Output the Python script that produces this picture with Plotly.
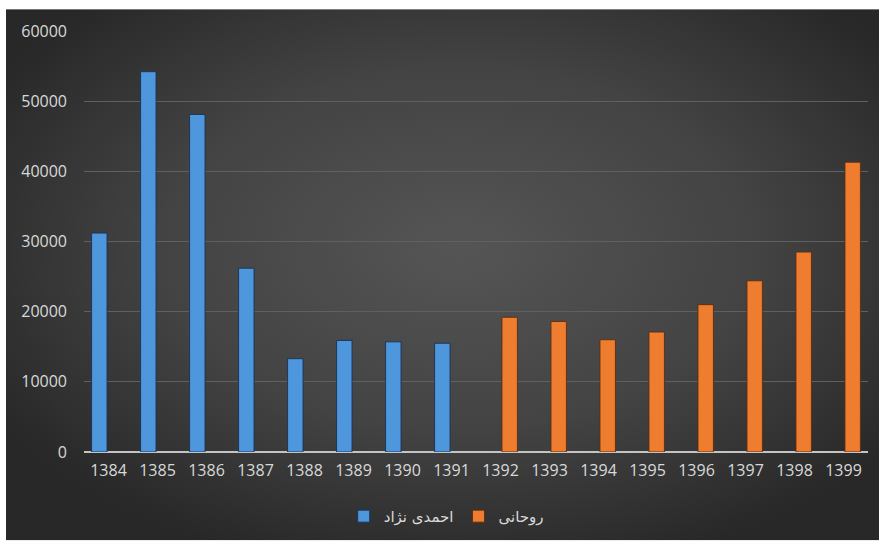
import base64
import plotly.graph_objects as go

# ---- data ----
years = ["1384", "1385", "1386", "1387", "1388", "1389", "1390", "1391",
         "1392", "1393", "1394", "1395", "1396", "1397", "1398", "1399"]
ahmadinejad = [31200, 54200, 48100, 26200, 13300, 15900, 15700, 15500,
               None, None, None, None, None, None, None, None]
rouhani = [None, None, None, None, None, None, None, None,
           19200, 18600, 16000, 17100, 21000, 24400, 28500, 41300]
series_names = ["احمدی نژاد", "روحانی"]
y_ticks = [0, 10000, 20000, 30000, 40000, 50000, 60000]

W, H = 879, 544
ML, MR, MT, MB = 84, 11, 31, 89
pw, ph = W - ML - MR, H - MT - MB

# radial gradient background (chart area)
svg = (
    '<svg xmlns="http://www.w3.org/2000/svg" width="873" height="535" viewBox="0 0 873 535" preserveAspectRatio="none">'
    '<defs><radialGradient id="g" cx="0.52" cy="0.45" r="0.62">'
    '<stop offset="0" stop-color="#555555"/>'
    '<stop offset="0.55" stop-color="#434343"/>'
    '<stop offset="1" stop-color="#282828"/>'
    '</radialGradient></defs>'
    '<rect width="873" height="535" fill="url(#g)"/></svg>'
)
uri = "data:image/svg+xml;base64," + base64.b64encode(svg.encode()).decode()

fig = go.Figure()
fig.add_trace(go.Bar(
    x=years, y=ahmadinejad, name=series_names[0],
    marker=dict(color="#4f97dc", line=dict(color="rgba(25,50,85,0.9)", width=1)),
))
fig.add_trace(go.Bar(
    x=years, y=rouhani, name=series_names[1],
    marker=dict(color="#ef7d2f", line=dict(color="rgba(90,45,15,0.9)", width=1)),
))

x0 = (6 - ML) / pw
x1 = (W - ML) / pw
ytop = (H - MB - 9) / ph
ybot = (H - MB - H) / ph
fig.add_layout_image(dict(
    source=uri, xref="paper", yref="paper", x=x0, y=ytop,
    sizex=x1 - x0, sizey=ytop - ybot, sizing="stretch",
    xanchor="left", yanchor="top", layer="below",
))

font_color = "#d9d9d9"
fig.update_layout(
    width=W, height=H,
    margin=dict(l=ML, r=MR, t=MT, b=MB),
    paper_bgcolor="white",
    plot_bgcolor="rgba(0,0,0,0)",
    barmode="group", bargap=0.25, bargroupgap=0.16,
    font=dict(family="Open Sans, DejaVu Sans", color=font_color, size=16),
    showlegend=True,
    legend=dict(orientation="h", x=0.462, y=-0.153, xanchor="center", yanchor="middle",
                font=dict(size=15, color=font_color, family="DejaVu Sans"),
                bgcolor="rgba(0,0,0,0)", itemwidth=30),
)
fig.update_xaxes(
    type="category", showgrid=False, showline=False, ticks="",
    tickfont=dict(size=16, color=font_color), ticklabelstandoff=7,
)
fig.update_yaxes(
    range=[0, 60000], tickvals=y_ticks, tickformat="d",
    showgrid=True, gridcolor="#606060", gridwidth=1,
    zeroline=True, zerolinecolor="#c4c4c4", zerolinewidth=1.5,
    showline=False, ticks="",
    tickfont=dict(size=16, color=font_color), ticklabelstandoff=16,
)

fig.write_html("out.html")
